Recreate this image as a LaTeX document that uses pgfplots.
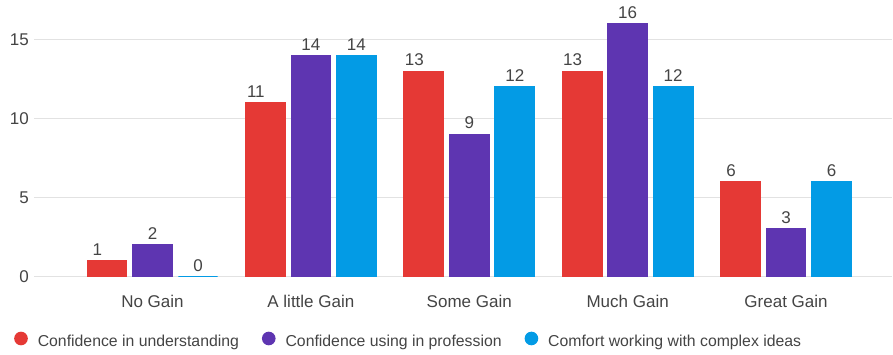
\documentclass[border=0pt]{standalone}
\usepackage{fontspec}
\setmainfont{Liberation Sans}
\usepackage{pgfplots}
\pgfplotsset{compat=1.18}
\definecolor{cred}{RGB}{229,57,53}
\definecolor{cpurple}{RGB}{94,53,177}
\definecolor{cblue}{RGB}{3,155,229}
\definecolor{ctext}{RGB}{68,68,68}
\definecolor{cgrid}{RGB}{226,226,226}
\begin{document}
\begin{tikzpicture}
\useasboundingbox (0,0) rectangle (893pt,354pt);
\begin{axis}[
  at={(34pt,77.5pt)}, anchor=south west,
  scale only axis, width=858pt, height=276.2pt,
  xmin=-0.748, xmax=4.669, ymin=0, ymax=17.5,
  ybar=6.4pt, bar width=39.1pt,
  clip=false,
  axis line style={draw=none},
  major tick length=0pt,
  ymajorgrids, grid style={cgrid, line width=1.2pt},
  ytick={0,5,10,15},
  xtick={0,1,2,3,4},
  xticklabels={No Gain, A little Gain, Some Gain, Much Gain, Great Gain},
  /pgf/number format/assume math mode=true,
  tick label style={font=\fontsize{17}{20}\selectfont, text=ctext},
  yticklabel style={anchor=east, inner sep=0pt, xshift=-5pt},
  xticklabel style={anchor=base, inner sep=0pt, yshift=-30.5pt},
  nodes near coords,
  every node near coord/.append style={font=\fontsize{17}{20}\selectfont, text=ctext, anchor=south, inner sep=0pt, yshift=4.5pt},
  legend columns=3,
  legend style={draw=none, fill=none, inner sep=0pt,
    at={(axis description cs:-0.0233,-0.1991)}, anchor=north west,
    font=\fontsize{15.8}{18}\selectfont, text=ctext,
    nodes={inner sep=0pt, text=ctext},
    /tikz/every odd column/.append style={column sep=10pt},
    /tikz/every even column/.append style={column sep=23pt}},
]
\addplot[fill=cred, draw=cred, line width=1.6pt,
  every node near coord/.append style={xshift=-9.5pt},
  legend image code/.code={\fill[cred] (0pt,3pt) circle (6pt);}]
  coordinates {(0,1) (1,11) (2,13) (3,13) (4,6)};
\addlegendentry{Confidence in understanding}
\addplot[fill=cpurple, draw=cpurple, line width=1.6pt,
  legend image code/.code={\fill[cpurple] (0pt,3pt) circle (6pt);}]
  coordinates {(0,2) (1,14) (2,9) (3,16) (4,3)};
\addlegendentry{Confidence using in profession}
\addplot[fill=cblue, draw=cblue, line width=1.6pt,
  legend image code/.code={\fill[cblue] (0pt,3pt) circle (6pt);}]
  coordinates {(0,0) (1,14) (2,12) (3,12) (4,6)};
\addlegendentry{Comfort working with complex ideas}
\end{axis}
\end{tikzpicture}
\end{document}
